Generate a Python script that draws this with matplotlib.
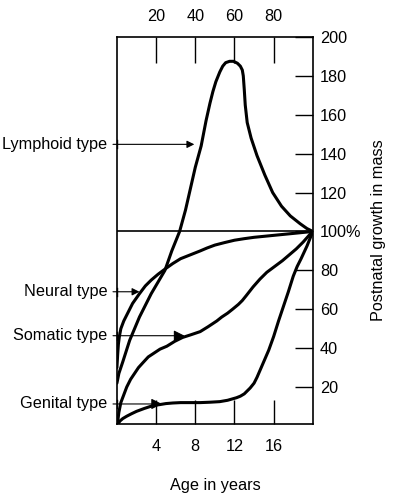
import numpy as np
import matplotlib
matplotlib.use("Agg")
import matplotlib.pyplot as plt

plt.rcParams['font.family'] = ['Liberation Sans', 'DejaVu Sans']

# growth curves, age in years vs % of adult mass
neural_x = [0, 0.08, 0.15, 0.25, 0.4, 0.7, 1, 1.6, 2.3, 2.9, 3.5, 4.2, 5, 5.7, 6.5,
            7.5, 8.5, 9.2, 10, 11, 12, 13, 14, 15, 16, 17, 18, 19, 20]
neural_y = [30, 37, 42, 46, 50, 54, 57, 63, 68, 72, 75, 78, 81, 83.5, 86,
            88, 90, 91.5, 93, 94.3, 95.5, 96.3, 97, 97.5, 98, 98.5, 99, 99.5, 100]

lymph_x = [0, 0.2, 0.6, 1.3, 2.3, 3.5, 4.9, 5.6, 6.4, 7, 7.5, 8, 8.6, 9.1, 9.5, 9.8,
           10.1, 10.5, 10.8, 11.1, 11.5, 11.9, 12.3, 12.6, 12.8, 12.9, 13.0, 13.1,
           13.3, 13.7, 14.3, 15.1, 15.9, 16.8, 17.7, 18.7, 19.4, 20]
lymph_y = [22, 27, 33, 44, 56, 68, 80, 90, 100, 111, 122, 133, 144, 157, 166, 172,
           177, 182, 185, 186.8, 187.5, 187.5, 186.5, 185, 183, 180, 173, 165,
           156, 148, 139, 129, 120, 113, 108, 104, 101.5, 100]

somatic_x = [0, 0.1, 0.2, 0.4, 0.7, 1, 1.4, 1.8, 2.2, 2.65, 3.2, 3.8, 4.4, 5.1, 5.9,
             6.7, 7.5, 8.5, 9.3, 10.2, 10.7, 11.3, 11.8, 12.4, 12.8, 13.2, 13.9,
             14.6, 15.3, 16.1, 16.9, 17.6, 18.3, 19, 19.7, 20]
somatic_y = [0, 3, 7, 12, 16, 20, 24, 27, 30, 32.5, 35.5, 37.5, 39.5, 41, 43.5,
             45.5, 46.8, 48.5, 51, 54, 56, 58, 60, 62.5, 64.5, 67, 71.5,
             75.5, 79, 82, 85, 88, 91, 94.5, 98.5, 100]

genital_x = [0, 0.3, 0.6, 1, 1.5, 2, 2.8, 3.7, 4.4, 5, 5.7, 6.5, 7.5, 8.5, 9.5, 10.5,
             11.3, 12.2, 12.6, 13, 13.3, 13.6, 14, 14.3, 14.6, 14.9, 15.5, 16, 16.5,
             17, 17.5, 18, 18.4, 18.8, 19.4, 20]
genital_y = [0, 2.5, 3.8, 5, 6.3, 7.5, 9, 10.5, 11, 11.5, 11.8, 12, 12, 12, 12.2, 12.5,
             13.2, 14.5, 15.3, 16.5, 18, 19.5, 22, 25, 28.5, 32, 39, 46, 54,
             61.5, 69, 77, 82, 86, 92.5, 100]

# labels: text, y level, x of arrow tip
labels = ["Lymphoid type", "Neural type", "Somatic type", "Genital type"]
label_y = [144.8, 69, 46.4, 11.3]
label_tip = [7.9, 2.3, 6.9, 4.6]
head_size = [11, 11, 16, 16]

bottom_ticks = [4, 8, 12, 16]
top_ticks = [20, 40, 60, 80]
right_ticks = [20, 40, 60, 80, 100, 120, 140, 160, 180, 200]
right_labels = [str(t) if t != 100 else "100%" for t in right_ticks]

fs = 11.7

fig = plt.figure(figsize=(3.95, 5.0), dpi=100)
ax = fig.add_axes([0.296, 0.152, 0.496, 0.774])

for xs, ys in [(neural_x, neural_y), (lymph_x, lymph_y),
               (somatic_x, somatic_y), (genital_x, genital_y)]:
    ax.plot(xs, ys, color='black', lw=2.2, solid_capstyle='round', solid_joinstyle='round')

ax.axhline(100, color='black', lw=1.2)

ax.set_xlim(0, 20)
ax.set_ylim(1, 200)

for s in ax.spines.values():
    s.set_linewidth(1.2)

ax.yaxis.tick_right()
ax.set_yticks(right_ticks)
ax.set_yticklabels(right_labels)
ax.tick_params(axis='y', direction='in', length=13, width=1, labelsize=fs, pad=5)
ax.yaxis.set_label_position('right')
ax.set_ylabel("Postnatal growth in mass", fontsize=fs, labelpad=7)

ax.set_xticks(bottom_ticks)
ax.tick_params(axis='x', direction='in', length=17, width=1, labelsize=fs, pad=11)
ax.set_xlabel("Age in years", fontsize=fs, labelpad=17)

top = ax.secondary_xaxis('top', functions=(lambda x: x * 5, lambda x: x / 5))
top.set_xticks(top_ticks)
top.tick_params(direction='in', length=19, width=1, labelsize=fs, pad=9)
top.spines['top'].set_visible(False)

for txt, y, tip, hs in zip(labels, label_y, label_tip, head_size):
    ax.text(-0.95, y, txt, ha='right', va='center', fontsize=fs)
    ax.annotate('', xy=(tip, y), xytext=(-0.4, y), annotation_clip=False,
                arrowprops=dict(arrowstyle='-|>', color='black', lw=0.8,
                                mutation_scale=hs, shrinkA=0, shrinkB=0))
    ax.plot([0, 0], [y - 2, y + 2], color='black', lw=1, clip_on=False)

fig.savefig("out.png", dpi=100)
